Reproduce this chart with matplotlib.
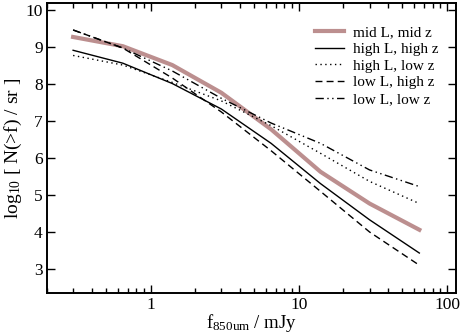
import matplotlib
matplotlib.use("Agg")
import matplotlib.pyplot as plt
from matplotlib.ticker import LogLocator, FixedLocator, NullFormatter

plt.rcParams['font.family'] = ['Liberation Serif', 'DejaVu Serif']
plt.rcParams['mathtext.default'] = 'regular'

# flux bins (mJy) and log10 cumulative counts
flux = [0.3, 0.65, 1.4, 3.0, 6.5, 14, 30, 65]
mid_mid = [9.28, 9.03, 8.52, 7.77, 6.78, 5.63, 4.77, 4.06]
high_high = [8.92, 8.57, 8.02, 7.33, 6.40, 5.31, 4.33, 3.43]
high_low = [8.78, 8.52, 8.05, 7.55, 6.88, 6.13, 5.37, 4.77]
low_high = [9.47, 8.98, 8.17, 7.25, 6.20, 5.10, 4.00, 3.10]
low_low = [9.47, 8.98, 8.36, 7.62, 6.95, 6.40, 5.68, 5.23]

fig = plt.figure(figsize=(4.63, 3.34), dpi=100)
ax = fig.add_axes([0.1015, 0.123, 0.8835, 0.868])

ax.plot(flux, mid_mid, color='#bc8f8f', lw=3.0, label='mid L, mid z')
ax.plot(flux, high_high, color='black', lw=1.0, ls='-', label='high L, high z')
ax.plot(flux, high_low, color='black', lw=1.0, ls=(0, (1, 2.5)), label='high L, low z')
ax.plot(flux, low_high, color='black', lw=1.0, ls=(0, (5, 3)), label='low L, high z')
ax.plot(flux, low_low, color='black', lw=1.0, ls=(0, (6, 2.5, 1, 2.5, 1, 2.5)), label='low L, low z')

ax.set_xscale('log')
ax.set_xlim(0.2, 115)
ax.set_ylim(2.35, 10.2)
ax.set_yticks([3, 4, 5, 6, 7, 8, 9, 10])
ax.set_xticks([1, 10, 100])
ax.set_xticklabels(['1', '10', '100'])
ax.xaxis.set_minor_locator(LogLocator(base=10, subs=range(2, 10), numticks=20))
ax.xaxis.set_minor_formatter(NullFormatter())
ax.yaxis.set_minor_locator(FixedLocator([]))

ax.tick_params(which='both', direction='in', top=True, right=True, labelsize=12.5, width=1.0)
ax.tick_params(which='major', length=6, pad=3)
ax.tick_params(which='minor', length=3.5)
for s in ax.spines.values():
    s.set_linewidth(1.4)

ax.set_xlabel('f$_{850um}$ / mJy', fontsize=13.5, labelpad=-1)
ax.set_ylabel('log$_{10}$ [ N(>f) / sr ]', fontsize=14, labelpad=1)

ax.legend(loc='upper right', bbox_to_anchor=(0.99, 0.97), frameon=False,
          fontsize=11, handlelength=1.9, handletextpad=0.6, labelspacing=0.2)

fig.savefig('out.png', dpi=100)
